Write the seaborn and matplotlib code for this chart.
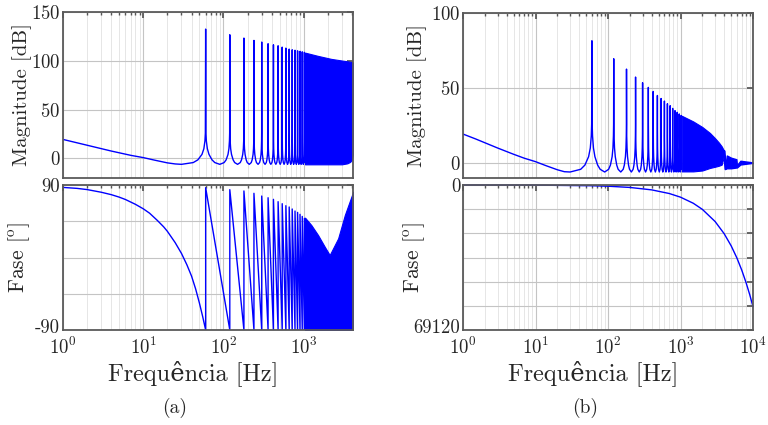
import numpy as np
import matplotlib.pyplot as plt
import matplotlib.transforms as mtransforms
import seaborn as sns
from matplotlib.ticker import LogLocator, NullFormatter

sns.set_theme(style="whitegrid")
plt.rcParams["font.family"] = ["cmr10", "DejaVu Serif"]
plt.rcParams["mathtext.fontset"] = "cm"
plt.rcParams["axes.formatter.use_mathtext"] = True
plt.rcParams["axes.unicode_minus"] = False

# harmonics that are drawn one by one (Hz)
harm_f = [60, 120, 180, 240, 300, 360, 420, 480, 540, 600, 660, 720, 780, 840, 900, 960, 1020]
# shape of the resonance skirt around a harmonic (offset in Hz, level in dB)
skirt_off = [-30, -18, -12, -6, -3, -1.2, -0.5, 0.5, 1.2, 3, 6, 12, 18]
skirt_db = [-6, -4.2, -1.4, 4.2, 10, 18, 26, 26, 18, 10, 4.2, -1.4, -4.2]

# ---- (a) magnitude
mag_a_base_f = [1, 1.5, 2, 3, 4, 5, 7, 10, 14, 20, 25]
mag_a_base_db = [19.5, 16.0, 13.5, 10.0, 7.6, 5.8, 3.2, 0.9, -1.8, -4.5, -5.6]
mag_a_peak = [132.5, 126.7, 123.3, 120.9, 119.2, 117.5, 116.4, 115.4, 114.0, 113.0,
              112.0, 111.3, 110.8, 110.2, 109.7, 109.2, 108.7]
mag_a_band_f = [1040, 1500, 2200, 3000, 3500, 3800, 4000, 4100]
mag_a_band_hi = [108.4, 105.1, 102.0, 100.3, 99.5, 99.0, 98.6, 98.3]
mag_a_band_lo = [-6, -6, -6, -6, -5, -3.5, -1, 4]

# ---- (a) phase
ph_a_base_f = [1, 1.5, 2, 3, 4, 5, 6, 8, 10, 12, 15, 18, 20, 25, 30, 35, 40, 45, 50, 55, 60]
ph_a_base = [87, 85.8, 84.3, 81, 78, 75, 72, 66, 60.5, 55, 46, 38, 32.5, 18.5, 5,
             -9, -23, -39, -56, -73, -90]
ph_a_top = [86.7, 84.2, 82.6, 79.7, 76.3, 74.2, 72.2, 69.3, 66.8, 64.3, 62.7, 60.2,
            57.7, 56.0, 53.6, 51.0, 48.6]
ph_a_band_f = [1040, 1245, 1510, 1830, 2110, 2690, 3260, 4140]
ph_a_band_hi = [49.5, 40.3, 27.9, 13.4, 3.1, 23.8, 52.8, 81.7]

# ---- (b) magnitude
mag_b_base_f = [1, 1.5, 2, 3, 4, 5, 7, 10, 14, 20, 25]
mag_b_base_db = [19.3, 16.0, 13.5, 10.0, 7.6, 5.8, 3.2, 0.9, -1.8, -4.5, -5.8]
mag_b_peak = [81.5, 69.5, 62.6, 57.3, 53.5, 50.4, 47.7, 45.0, 43.0, 41.3, 39.5, 38.2,
              36.4, 34.9, 33.8, 32.7, 31.7]
mag_b_band_f = [1040, 1500, 2000, 2550, 3000, 3400, 3700, 3900, 3990]
mag_b_band_hi = [31.5, 27.7, 24.0, 20.0, 16.5, 13.5, 11.1, 9.0, 8.4]
mag_b_band_lo = [-5.6, -5.6, -5.0, -3.3, -2.5, -1.8, -1.1, 3.0, 8.4]
mag_b_tail_f = [3990, 4100, 4350, 5000, 5900, 6000, 6700, 8000, 9600, 10000]
mag_b_tail_hi = [8.4, -4, 5, 3.5, 2.5, -1.5, 1.5, 1, 0.5, 0]
mag_b_tail_lo = [8.4, -4, -3.5, -3.5, -3, -3, -1, -0.5, 0, 0]

# ---- (b) phase
ph_b_f = [1, 10, 60, 100, 200, 400, 700, 1000, 1500, 2000, 3000, 4000, 5000, 6000,
          7000, 8000, 9000, 10000]
ph_b = [-6, -58, -350, -580, -1160, -2320, -4060, -5800, -8700, -11600, -17400, -23200,
        -29000, -34800, -40600, -46400, -52200, -58000]

BLUE = (0, 0, 1)


def mag_series(base_f, base_db, peaks):
    f, v = list(base_f), list(base_db)
    for fk, pk in zip(harm_f, peaks):
        for off, lv in zip(skirt_off, skirt_db):
            if off > 0 and f[-1] < fk:
                f.append(fk); v.append(pk)
            f.append(fk + off); v.append(lv)
    return f, v


def phase_series(base_f, base, tops):
    f, v = list(base_f), list(base)
    for i, fk in enumerate(harm_f):
        f += [fk, fk + 60]
        v += [tops[i], -90]
    return f, v


def style(ax, xmax, bottom):
    ax.set_xscale("log")
    ax.set_xlim(1, xmax)
    ax.set_facecolor("white")
    ax.xaxis.set_major_locator(LogLocator(base=10, numticks=10))
    ax.xaxis.set_minor_locator(LogLocator(base=10, subs=np.arange(2, 10), numticks=50))
    ax.xaxis.set_minor_formatter(NullFormatter())
    ax.grid(True, which="major", color="#c4c4c4", lw=0.8)
    ax.grid(True, which="minor", axis="x", color="#e2e2e2", lw=0.6)
    ax.tick_params(which="both", direction="in", top=True, right=True,
                   color="#555555", labelsize=13.5, pad=2)
    ax.tick_params(axis="x", pad=5)
    ax.tick_params(which="major", length=4)
    ax.tick_params(which="minor", length=2)
    for s in ax.spines.values():
        s.set_color("#5a5a5a")
        s.set_linewidth(1.3)
    if not bottom:
        ax.set_xticklabels([])
    ax.set_axisbelow(True)


fig = plt.figure(figsize=(7.68, 4.25), dpi=100)

L1, L2, W = 63 / 768, 463 / 768, 290 / 768
ax_ma = fig.add_axes([L1, 1 - 178 / 425, W, 166 / 425])
ax_pa = fig.add_axes([L1, 1 - 330 / 425, W, 145 / 425])
ax_mb = fig.add_axes([L2, 1 - 178 / 425, W, 165 / 425])
ax_pb = fig.add_axes([L2, 1 - 330 / 425, W, 145 / 425])

for ax, xm, b in [(ax_ma, 4120, False), (ax_pa, 4120, True),
                  (ax_mb, 1e4, False), (ax_pb, 1e4, True)]:
    style(ax, xm, b)

# (a) magnitude
f, v = mag_series(mag_a_base_f, mag_a_base_db, mag_a_peak)
sns.lineplot(x=f, y=v, ax=ax_ma, estimator=None, sort=False, color=BLUE, lw=1.0)
ax_ma.fill_between(mag_a_band_f, mag_a_band_lo, mag_a_band_hi, color=BLUE, lw=0.8)
ax_ma.set_ylim(-20, 150)
ax_ma.set_yticks([0, 50, 100, 150])

# (a) phase
f, v = phase_series(ph_a_base_f, ph_a_base, ph_a_top)
sns.lineplot(x=f, y=v, ax=ax_pa, estimator=None, sort=False, color=BLUE, lw=1.0)
ax_pa.fill_between(ph_a_band_f, -90, ph_a_band_hi, color=BLUE, lw=0.8)
ax_pa.set_ylim(-90, 90)
ax_pa.set_yticks([-90, -45, 0, 45, 90])
ax_pa.set_yticklabels(["-90", "", "", "", "90"])

# (b) magnitude
f, v = mag_series(mag_b_base_f, mag_b_base_db, mag_b_peak)
sns.lineplot(x=f, y=v, ax=ax_mb, estimator=None, sort=False, color=BLUE, lw=1.0)
ax_mb.fill_between(mag_b_band_f, mag_b_band_lo, mag_b_band_hi, color=BLUE, lw=0.8)
ax_mb.fill_between(mag_b_tail_f, mag_b_tail_lo, mag_b_tail_hi, color=BLUE, lw=1.0)
ax_mb.set_ylim(-10, 100)
ax_mb.set_yticks([0, 50, 100])

# (b) phase
sns.lineplot(x=ph_b_f, y=ph_b, ax=ax_pb, estimator=None, sort=False, color=BLUE,
             lw=1.0, clip_on=False)
ax_pb.set_ylim(-69120, 0)
ax_pb.set_yticks(np.linspace(-69120, 0, 7))
ax_pb.set_yticklabels(["69120", "", "", "", "", "", "0"])

# lift the lowest phase tick labels a little so they clear the 10^0 label
lift = mtransforms.ScaledTranslation(0, 3 / 72, fig.dpi_scale_trans)
for ax in (ax_pa, ax_pb):
    lab = ax.yaxis.get_major_ticks()[0].label1
    lab.set_transform(lab.get_transform() + lift)

for ax in (ax_ma, ax_mb):
    ax.set_ylabel("Magnitude [dB]", fontsize=15)
for ax in (ax_pa, ax_pb):
    ax.set_ylabel(r"Fase [$^{\rm o}$]", fontsize=15.5)
    ax.set_xlabel("Frequência [Hz]", fontsize=17.5)
    ax.xaxis.set_label_coords(0.45, -0.21)
ax_ma.yaxis.set_label_coords(-0.108, 0.5)
ax_pa.yaxis.set_label_coords(-0.108, 0.5)
ax_mb.yaxis.set_label_coords(-0.123, 0.5)
ax_pb.yaxis.set_label_coords(-0.123, 0.5)

fig.text(0.228, 0.04, "(a)", ha="center", va="center", fontsize=14)
fig.text(0.762, 0.04, "(b)", ha="center", va="center", fontsize=14)

fig.savefig("out.png", dpi=100)
